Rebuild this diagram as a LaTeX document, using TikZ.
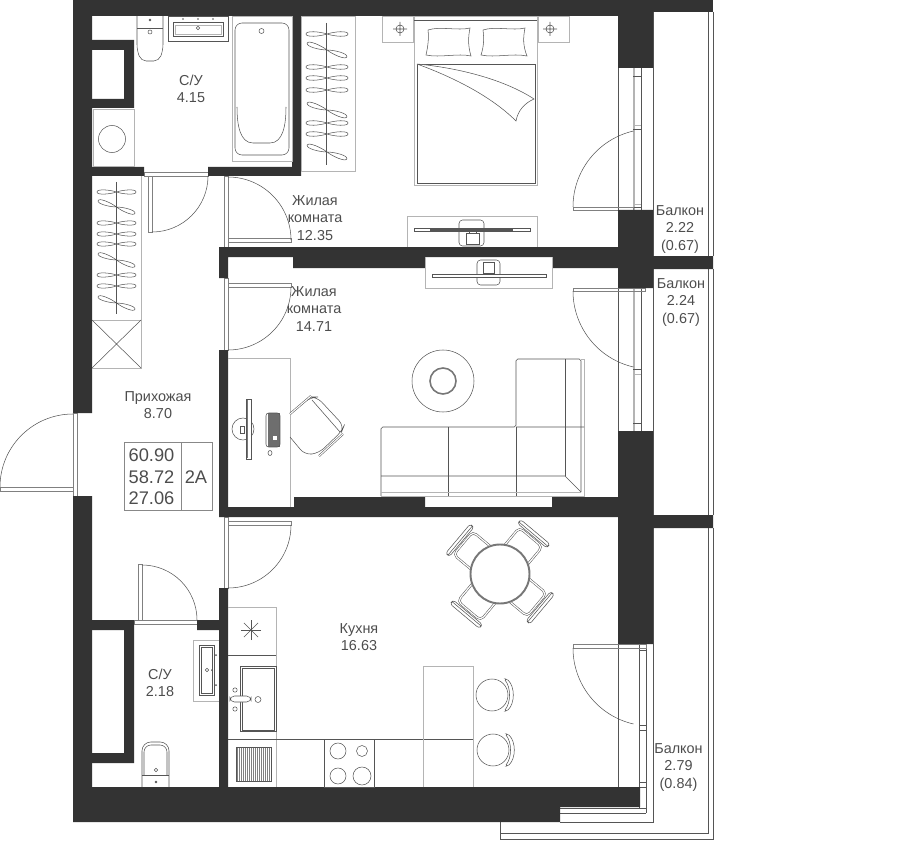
\documentclass[tikz,border=0pt]{standalone}
\usepackage{fontspec}
\setmainfont{Liberation Sans}
\usepackage{tikz}
\definecolor{wandfarbe}{HTML}{333333}
\definecolor{linienfarbe}{HTML}{555555}
\definecolor{rahmenfarbe}{HTML}{808080}
\definecolor{hellgrau}{HTML}{B4B4B4}
\definecolor{textfarbe}{HTML}{4D4D4D}
\tikzset{
  wand/.style={fill=wandfarbe},
  linie/.style={draw=linienfarbe, line width=0.3pt},
  rahmen/.style={draw=rahmenfarbe, line width=0.3pt},
  hell/.style={draw=hellgrau, line width=0.5pt},
  dick/.style={draw=linienfarbe!80, line width=0.9pt},
  raum/.style={text=textfarbe, align=center, font=\fontsize{8.2}{9.8}\selectfont},
  info/.style={text=textfarbe, font=\fontsize{10.4}{12}\selectfont},
  kleiderbuegel/.pic={
    \draw[linie] (0,0) .. controls (-7,-2.4) and (-21,-3.6) .. (-21,0) .. controls (-21,3.6) and (-7,2.4) .. (0,0)
      .. controls (7,-2.4) and (21,-3.6) .. (21,0) .. controls (21,3.6) and (7,2.4) .. (0,0);
  },
  stuhl/.pic={
    \draw[linie, double=white, double distance=0.7pt, rounded corners=2.5pt] (22,-15) -- (48,-15) -- (48,15) -- (22,15);
    \draw[linie, rounded corners=1.5pt, fill=white] (50,-19) rectangle (55,19);
    \draw[linie] (52,-19) -- (52,19);
  },
}

\begin{document}
\begin{tikzpicture}[x=0.02cm, y=-0.02cm]
\useasboundingbox (0,0) rectangle (900,848);

% Balkon
\draw[linie] (653,12) -- (653,515) (653,528) -- (653,822) -- (560,822);
\draw[linie] (708,12) -- (708,256) (708,269) -- (708,515) (708,528) -- (708,833) -- (500,833) -- (500,822);
\draw[linie] (713,12) -- (713,256) (713,269) -- (713,515) (713,528) -- (713,839) -- (500,839) -- (500,833);

% Fenster
\draw[linie] (618,68) -- (618,210) (641,68) -- (641,210);
\draw[linie] (618,288) -- (618,431) (641,288) -- (641,431);
\draw[linie] (618,644) -- (618,787) (646,644) -- (646,813) (639,644) -- (639,808);
\draw[hell, line width=1pt] (634,68) -- (634,210) (634,288) -- (634,431);
\draw[linie] (633,76) -- (641,76) (633,129) -- (641,129) (633,207) -- (641,207);
\draw[hell] (633,125) -- (641,125) (633,204) -- (641,204);
\draw[linie] (633,369) -- (641,369) (633,423) -- (641,423);
\draw[hell] (633,374) -- (641,374);
\draw[linie] (639,650) -- (646,650) (639,725) -- (646,725) (639,730) -- (646,730) (639,782) -- (646,782) (639,787) -- (646,787);
\draw[linie] (560,808) -- (646,808) (560,813) -- (646,813);

% Tueren
\draw[rahmen] (144,172) rectangle (208,176) (148,176) rectangle (152,232);
\draw[linie] (152,232) arc[start angle=90, end angle=0, radius=56];
\draw[rahmen] (224,176) rectangle (228,248) (228,238) rectangle (291,242);
\draw[linie] (228,177) arc[start angle=270, end angle=360, radius=63];
\draw[rahmen] (224,278) rectangle (228,350) (228,283) rectangle (291,287);
\draw[linie] (291,287) arc[start angle=0, end angle=90, radius=63];
\draw[rahmen] (73,413) rectangle (77,496) (0,487) rectangle (73,491);
\draw[linie] (0,487) arc[start angle=180, end angle=270, radius=73];
\draw[rahmen] (224,517) rectangle (228,588) (228,521) rectangle (291,525);
\draw[linie] (291,525) arc[start angle=0, end angle=90, radius=63];
\draw[rahmen] (134,620) rectangle (197,624) (138,564) rectangle (142,620);
\draw[linie] (142,565) arc[start angle=270, end angle=360, radius=55];
\draw[rahmen] (573,207) rectangle (633,210);
\draw[linie] (573,207) arc[start angle=180, end angle=257, radius=78];
\draw[rahmen] (573,288) rectangle (645,291);
\draw[linie] (573,291) arc[start angle=180, end angle=103, radius=78];
\draw[rahmen] (573,644) rectangle (646,648);
\draw[linie] (573,648) arc[start angle=180, end angle=103, radius=78];

% Waende
\fill[wand] (73,0) rectangle (653,16) (92,40) rectangle (134,50) (124,50) rectangle (134,99)
  (92,99) rectangle (134,108) (92,167) rectangle (144,176) (208,167) rectangle (301,176)
  (292,16) rectangle (301,167);
\fill[wand] (73,0) rectangle (92,413) (73,496) rectangle (92,822) (73,787) rectangle (640,807) (73,807) rectangle (560,822);
\fill[wand] (653,0) rectangle (713,12);
\fill[wand] (618,16) rectangle (653,68) (618,210) rectangle (653,288) (653,256) rectangle (713,269)
  (219,247) rectangle (618,257) (219,257) rectangle (228,278) (293,257) rectangle (425,268) (552,257) rectangle (618,268);
\fill[wand] (618,431) rectangle (653,644) (653,515) rectangle (713,528)
  (219,350) rectangle (228,517) (228,507) rectangle (618,517) (294,497) rectangle (425,507) (552,497) rectangle (618,507);
\fill[wand] (92,620) rectangle (134,630) (124,630) rectangle (134,763) (92,753) rectangle (134,763)
  (197,620) rectangle (219,630) (219,588) rectangle (228,787);

% Bad oben
\draw[linie, rounded corners=3pt] (137,16) -- (137,50) -- (141,61) -- (159,61) -- (163,50) -- (163,16);
\draw[linie, rounded corners=2pt] (137,28) -- (163,28);
\draw[linie] (150,32) circle (2);
\fill[linienfarbe] (150,20) circle (1.4);
\draw[linie] (168,16) rectangle (228,41) (173,22) rectangle (223,36);
\draw[hell] (175,25) rectangle (221,34);
\foreach \px in {183,198,213} \fill[linienfarbe] (\px,19) circle (0.9);
\draw[linie] (198,28) circle (1.8);
\draw[hell] (232,16) rectangle (292,161);
\draw[linie, rounded corners=4pt] (235,23) rectangle (289,155);
\draw[linie] (261.5,31) circle (2.5);
\draw[linie] (237,107) .. controls (237,125) and (240,143) .. (253,143) -- (270,143) .. controls (283,143) and (286,125) .. (286,107);
\draw[hell] (93,109) rectangle (134,166);
\draw[linie] (112,139) circle (13.5);
\node (su1) [raum] at (191,89) {С/У\\4.15};

% Schrank oben
\draw[hell] (301,16) rectangle (355,171);
\draw[linie] (326,23) -- (326,165);
\foreach \py in {34,67,78,90,123,134} \pic at (327,\py) {kleiderbuegel};
\foreach \py in {50,110,152} \pic[rotate=-19] at (327,\py) {kleiderbuegel};

% Schlafzimmer
\draw[hell] (382,16) rectangle (413,42) (538,16) rectangle (569,42);
\draw[linie] (400,29) circle (4) (393,29) -- (407,29) (400,22) -- (400,36);
\draw[linie] (550,29) circle (4) (543,29) -- (557,29) (550,22) -- (550,36);
\draw[hell] (414,16) rectangle (537,185);
\draw[linie] (414,20) -- (537,20);
\draw[linie, line width=0.45pt] (417,64) rectangle (535,183);
\draw[linie, fill=white] (417,64) .. controls (460,68) and (505,80) .. (534,99) .. controls (525,103) and (518,110) .. (516,121) .. controls (490,95) and (450,76) .. (417,64);
\draw[linie] (428,30) .. controls (440,26) and (458,31) .. (470,28) .. controls (468,38) and (468,46) .. (471,56) .. controls (458,53) and (440,58) .. (426,55) .. controls (428,46) and (429,38) .. (428,30);
\draw[linie] (483,30) .. controls (495,26) and (513,31) .. (525,28) .. controls (523,38) and (523,46) .. (527,56) .. controls (513,53) and (495,58) .. (481,55) .. controls (484,46) and (484,38) .. (483,30);

% Fernseher oben
\draw[hell] (407,247) -- (407,216) -- (537,216) -- (537,247);
\draw[linie, rounded corners=2pt] (459,220) rectangle (484,246);
\draw[linie] (466,233) rectangle (479,244) (469,231) rectangle (476,233);
\draw[linie, fill=white] (414,228) rectangle (530,231);
\draw[linie, line width=0.6pt] (430,230) -- (513,230);
\node (zimmer1) [raum] at (315,218) {Жилая\\комната\\12.35};

% Fernseher unten
\draw[hell] (425,257) -- (425,288) -- (552,288) -- (552,257);
\draw[linie, rounded corners=2pt] (477,260) rectangle (500,285);
\draw[linie] (483,262) rectangle (494,273) (485,273) rectangle (492,275);
\draw[linie, fill=white] (432,274) rectangle (546,277);
\draw[linie, line width=0.6pt] (448,274.5) -- (530,274.5);
\node (zimmer2) [raum] at (314,309) {Жилая\\комната\\14.71};

% Schreibtisch
\draw[hell] (228,358) -- (290,358) -- (290,507);
\draw[linie] (243,429) circle (11);
\draw[linie, fill=white] (246,399) rectangle (251,459);
\draw[dick] (247.5,400) -- (247.5,458);
\draw[linie] (240,426) rectangle (244,433);
\fill[linienfarbe!85] (268,413) rectangle (280,447);
\draw[linie, rounded corners=1.5pt] (266,413) rectangle (280,447);
\fill[white] (273,436) rectangle (277,440);
\draw[linie] (270,453) ellipse (2 and 2.5);
\draw[linie, rounded corners=4pt] (290,437) -- (305,455) -- (319,453) -- (342,431) -- (344,426) -- (317,397) -- (311,397) -- (290,414);
\draw[linie] (312,400) -- (340,432);
\draw[linie, double=white, double distance=0.6pt] (290,414) -- (311,396) (319,456) -- (343,434);

% Teppich und Sofa
\draw[linie] (443,381) circle (31);
\draw[dick] (443,381) circle (13);
\draw[linie, rounded corners=1pt] (381,496) -- (381,427) -- (516,427) -- (516,359) -- (581,359) -- (581,492);
\draw[hell] (381,496) -- (584,496) -- (584,359) -- (581,359);
\draw[linie] (448,427) -- (448,496) (516,427) -- (516,496) (565,359) -- (565,476);
\draw[linie] (516,427) -- (584,427) (381,476) -- (565,476) -- (581,492);
\draw[hell] (381,492) -- (581,492);

% Infotafel
\draw[hell, draw=linienfarbe!70] (124,442) rectangle (212,510) (181,442) -- (181,510);
\node (gesamt) [info] at (151.5,455) {60.90};
\node (wohn) [info] at (151.5,477) {58.72};
\node (leben) [info] at (151.5,498) {27.06};
\node (typ) [info] at (196,477) {2A};
\node (flur) [raum] at (158,405) {Прихожая\\8.70};

% Schrank Flur
\draw[hell] (141,176) -- (141,368) -- (92,368) (92,320) -- (141,320);
\draw[linie] (92,320) -- (141,368) (141,320) -- (92,368);
\draw[linie] (116,182) -- (116,314);
\foreach \py in {192,223,234,244,275,286} \pic[scale=0.93] at (116.5,\py) {kleiderbuegel};
\foreach \py in {207,260,303} \pic[scale=0.93, rotate=-19] at (116.5,\py) {kleiderbuegel};

% Bad unten
\draw[hell] (219,640) -- (193,640) -- (193,701) -- (219,701);
\draw[linie] (199,645) rectangle (214,695) (201,647) rectangle (212,693);
\fill[linienfarbe] (216,655) circle (1) (216,685) circle (1) (212,670) circle (1);
\draw[linie] (207,670) circle (1.8);
\draw[linie, rounded corners=5pt] (142,787) -- (142,742) -- (169,742) -- (169,787);
\draw[linie, rounded corners=4pt] (144,775) -- (144,745) -- (167,745) -- (167,775);
\draw[linie] (142,775) -- (169,775);
\draw[linie] (156,770) circle (1.8);
\fill[linienfarbe] (156,782) circle (1.3);
\node (su2) [raum] at (160,683) {С/У\\2.18};

% Kueche
\draw[hell] (228,607) -- (276,607) -- (276,787);
\draw[linie] (228,655) -- (276,655);
\draw[linie] (228,739) -- (473,739);
\foreach \wi in {0,45,90,135} \draw[linie] (251,630) ++(\wi:10) -- ++(\wi+180:20);
\draw[linie] (240,666) rectangle (276,731) (242,668) rectangle (274,730);
\draw[linie, fill=white, rounded corners=2.5pt] (230,696) rectangle (251,702);
\draw[linie] (235,690) circle (2.2) (235,709) circle (2.2) (258,699.5) circle (3);
\foreach \px in {237,239,...,271} \draw[linienfarbe!75, line width=0.55pt] (\px,747) -- (\px,781);
\draw[linie] (236,747) rectangle (271,781);
\draw[linie] (324,739) rectangle (374,787);
\draw[linie] (338,751) circle (8) (362,751) circle (5.5) (338,776) circle (8) (362,776) circle (9);
\draw[hell] (423,787) -- (423,666) -- (473,666) -- (473,787);
\draw[linie] (492,695) circle (16) (493,750) circle (16);
\draw[linie, rounded corners=1pt] (504,679) .. controls (511,687) and (511,703) .. (504,711) -- (507,711) .. controls (515,703) and (515,687) .. (507,679) -- cycle;
\draw[linie, rounded corners=1pt] (505,734) .. controls (512,742) and (512,758) .. (505,766) -- (508,766) .. controls (516,758) and (516,742) .. (508,734) -- cycle;
\node (kueche) [raum] at (359,637) {Кухня\\16.63};

% Esstisch mit Stuehlen
\foreach \wi in {50,140,230,320} \pic[rotate=\wi] at (500,574) {stuhl};
\draw[dick, fill=white, line width=1.1pt] (500,574) circle (29.5);

% Balkone
\node (balkon1) [raum] at (680,229.5) {Балкон\\2.22\\(0.67)};
\node (balkon2) [raum] at (681,302.5) {Балкон\\2.24\\(0.67)};
\node (balkon3) [raum] at (678.5,767.5) {Балкон\\2.79\\(0.84)};
\end{tikzpicture}
\end{document}
